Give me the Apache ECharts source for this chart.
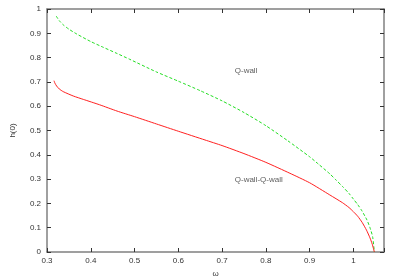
<!DOCTYPE html>
<html><head><meta charset="utf-8">
<script src="https://cdn.jsdelivr.net/npm/echarts@6/dist/echarts.min.js"></script>
<style>html,body{margin:0;padding:0;background:#fff}#c{width:396px;height:277px}</style>
</head><body><div id="c"></div>
<script>
var xTicks = [0.3, 0.4, 0.5, 0.6, 0.7, 0.8, 0.9, 1];
var yTicks = [0, 0.1, 0.2, 0.3, 0.4, 0.5, 0.6, 0.7, 0.8, 0.9, 1];
var greenX = [0.321, 0.328, 0.337, 0.35, 0.368, 0.4, 0.429, 0.46, 0.489, 0.55, 0.6, 0.65, 0.7, 0.75, 0.8, 0.85, 0.9, 0.92, 0.946, 0.96, 0.975, 0.99, 1.0, 1.01, 1.02, 1.031, 1.038, 1.044, 1.048];
var greenY = [0.971, 0.952, 0.935, 0.917, 0.897, 0.866, 0.842, 0.817, 0.793, 0.741, 0.703, 0.664, 0.622, 0.574, 0.52, 0.458, 0.392, 0.362, 0.322, 0.297, 0.27, 0.241, 0.218, 0.195, 0.168, 0.132, 0.1, 0.063, 0.0];
var redX = [0.316, 0.318, 0.322, 0.328, 0.337, 0.36, 0.383, 0.42, 0.46, 0.5, 0.55, 0.6, 0.661, 0.7, 0.75, 0.8, 0.855, 0.9, 0.946, 0.975, 0.99, 1.0, 1.01, 1.02, 1.03, 1.038, 1.043, 1.048];
var redY = [0.705, 0.695, 0.683, 0.671, 0.66, 0.642, 0.628, 0.606, 0.58, 0.557, 0.527, 0.497, 0.461, 0.438, 0.405, 0.369, 0.324, 0.285, 0.235, 0.203, 0.183, 0.166, 0.147, 0.122, 0.09, 0.058, 0.033, 0.0];
var labelTexts = ['Q-wall', 'Q-wall-Q-wall'];
var labelX = [0.729, 0.729];
var labelY = [0.745, 0.299];

function pairs(xs, ys){ return xs.map(function(x,i){ return [x, ys[i]]; }); }
var font = 'Liberation Sans, Arial, sans-serif';
var axisCol = '#808080';
var chart = echarts.init(document.getElementById('c'));
function xAx(pos, show){
  return {type:'value', position:pos, min:0.3, max:1.07, interval:0.1,
    axisLine:{show:true, onZero:false, lineStyle:{color:axisCol, width:1.5}},
    axisTick:{show:true, inside:true, length:4, lineStyle:{color:'#333', width:1}},
    axisLabel:{show:show, fontSize:8, color:'#333', fontFamily:font, margin:5,
      formatter:function(v){ return xTicks.indexOf(Math.round(v*10)/10)>=0 ? String(Math.round(v*10)/10) : ''; }},
    splitLine:{show:false},
    name: show ? 'ω' : '', nameLocation:'middle', nameGap:17,
    nameTextStyle:{fontSize:8, color:'#333', fontFamily:font}};
}
function yAx(pos, show){
  return {type:'value', position:pos, min:0, max:1, interval:0.1,
    axisLine:{show:true, onZero:false, lineStyle:{color:axisCol, width:1.5}},
    axisTick:{show:true, inside:true, length:4, lineStyle:{color:'#333', width:1}},
    axisLabel:{show:show, fontSize:8, color:'#333', fontFamily:font, margin:6,
      formatter:function(v){ return String(Math.round(v*10)/10); }},
    splitLine:{show:false},
    name: show ? 'h(0)' : '', nameLocation:'middle', nameGap:30, nameRotate:90,
    nameTextStyle:{fontSize:8, color:'#333', fontFamily:font}};
}
chart.setOption({
  animation:false,
  backgroundColor:'#fff',
  grid:{left:47, right:12, top:9, bottom:25, containLabel:false, outerBoundsMode:'none'},
  xAxis:[xAx('bottom', true), xAx('top', false)],
  yAxis:[yAx('left', true), yAx('right', false)],
  series:[
    {type:'line', data:pairs(greenX, greenY), symbol:'none', smooth:0.2,
      lineStyle:{color:'#22dd22', width:1, type:[3,2]}},
    {type:'line', data:pairs(redX, redY), symbol:'none', smooth:0.2,
      lineStyle:{color:'#ff2020', width:1}},
    {type:'scatter', symbolSize:0, silent:true,
      data:labelTexts.map(function(t,i){ return {value:[labelX[i], labelY[i]], name:t}; }),
      label:{show:true, position:'right', distance:0, fontSize:8, color:'#333', fontFamily:font,
        formatter:function(p){ return p.name; }}}
  ]
});
</script></body></html>
